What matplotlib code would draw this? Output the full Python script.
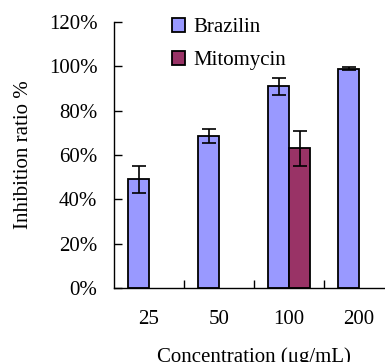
import matplotlib
matplotlib.use("Agg")
import matplotlib.pyplot as plt
import numpy as np
from matplotlib.ticker import FixedLocator, PercentFormatter

categories = ["25", "50", "100", "200"]
brazilin = [49.0, 68.6, 91.0, 99.0]
brazilin_err = [6.2, 3.0, 3.8, 0.5]
mito_idx = [2]
mitomycin = [63.0]
mitomycin_err = [7.8]

plt.rcParams['font.family'] = ['Liberation Serif', 'DejaVu Serif']

fig = plt.figure(figsize=(3.85, 3.62), dpi=100)
ax = fig.add_axes([114/385, 74/362, 280/385, 266/362])

x = np.arange(len(categories))
w = 0.3
ekw = dict(elinewidth=1.2, capthick=1.2)
ax.bar(x - w/2, brazilin, w, color='#9999FF', edgecolor='black', linewidth=1.3,
       yerr=brazilin_err, capsize=5, error_kw=ekw, label='Brazilin')
ax.bar(np.array(mito_idx) + w/2, mitomycin, w, color='#993366', edgecolor='black', linewidth=1.3,
       yerr=mitomycin_err, capsize=5, error_kw=ekw, label='Mitomycin')

ax.set_xlim(-0.5, 3.5)
ax.set_ylim(0, 120)
ax.set_yticks(np.arange(0, 121, 20))
ax.yaxis.set_major_formatter(PercentFormatter(decimals=0))
ax.set_xticks(x)
ax.set_xticklabels(categories)
ax.xaxis.set_minor_locator(FixedLocator([0.5, 1.5, 2.5]))
ax.tick_params(axis='x', which='major', length=0, pad=16, labelsize=15)
ax.tick_params(axis='x', which='minor', direction='in', length=6, width=1)
ax.tick_params(axis='y', direction='in', length=6, width=1, labelsize=15, pad=12)
for s in ['top', 'right']:
    ax.spines[s].set_visible(False)
for s in ['left', 'bottom']:
    ax.spines[s].set_linewidth(1)

ax.set_ylabel('Inhibition ratio %', fontsize=15, labelpad=11)
ax.set_xlabel('Concentration (μg/mL)', fontsize=15, labelpad=13)

ax.legend(loc='upper left', bbox_to_anchor=(0.14, 1.085), frameon=False, fontsize=15,
          handlelength=0.65, handleheight=0.65, handletextpad=0.4, labelspacing=0.65)

fig.savefig('out.png', dpi=100)
